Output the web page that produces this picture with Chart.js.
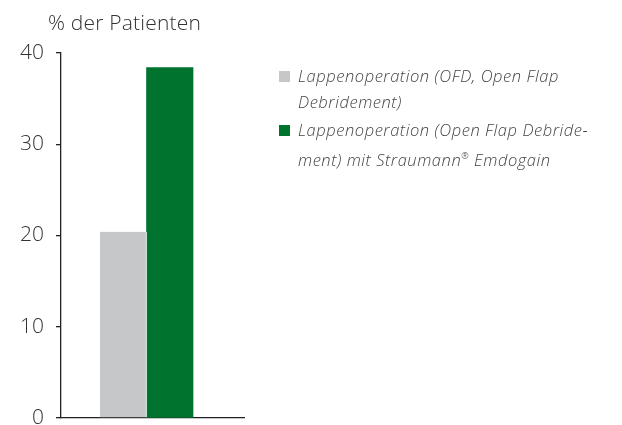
<!DOCTYPE html>
<html>
<head>
<meta charset="utf-8">
<script src="https://cdn.jsdelivr.net/npm/chart.js@4"></script>
<style>
  body { margin: 0; background: #fff; }
  #wrap { position: relative; width: 622px; height: 425px; }
  #titel { position: absolute; left: 48px; top: 8px; font: 300 21px "Open Sans", sans-serif; color: #333; letter-spacing: 0.2px; }
  #legende { position: absolute; left: 279px; top: 63px; width: 340px; font: italic 300 16.5px "Open Sans", sans-serif; color: #444; letter-spacing: 0.55px; }
  #legende .eintrag { position: relative; padding-left: 19px; line-height: 26px; margin-bottom: 2px; }
  #legende .box { position: absolute; left: 0; top: 8px; width: 11px; height: 11px; }
</style>
</head>
<body>
<div id="wrap">
  <canvas id="grafik" width="622" height="425"></canvas>
  <div id="titel">% der Patienten</div>
  <div id="legende"></div>
</div>
<script>
// daten
var kategorien = [0];
var serien = [
  'Lappenoperation (OFD, Open Flap Debridement)',
  'Lappenoperation (Open Flap Debride-ment) mit Straumann® Emdogain'
];
var werteOFD = [20.4];
var werteEMD = [38.4];
var farben = ['#c6c7c9', '#00732f'];
var yTicks = [0, 10, 20, 30, 40];

function punkte(werte) {
    return werte.map(function (v, i) { return { x: kategorien[i], y: v }; });
}

document.addEventListener("DOMContentLoaded", function () {
    var ctx = document.getElementById("grafik").getContext("2d");
    var myChart = new Chart(ctx, {
        type: 'bar',
        data: {
            datasets: [{
                label: serien[0],
                backgroundColor: farben[0],
                borderColor: '#ffffff',
                borderWidth: { right: 1 },
                borderSkipped: false,
                data: punkte(werteOFD)
            }, {
                label: serien[1],
                backgroundColor: farben[1],
                data: punkte(werteEMD)
            }]
        },
        options: {
            responsive: false,
            animation: false,
            layout: { padding: { top: 53, left: 0, right: 378, bottom: 7 } },
            plugins: {
                legend: { display: false },
                tooltip: { enabled: false }
            },
            datasets: { bar: { barThickness: 46.5 } },
            scales: {
                x: {
                    type: 'linear',
                    min: -0.451,
                    max: 0.549,
                    grid: { display: false, drawTicks: false },
                    border: { color: '#222', width: 1.3 },
                    ticks: { display: false }
                },
                y: {
                    min: 0,
                    max: 40,
                    afterBuildTicks: function (scale) {
                        scale.ticks = yTicks.map(function (v) { return { value: v }; });
                    },
                    afterFit: function (scale) {
                        scale.width = 61;
                        scale.paddingTop = 0;
                        scale.paddingBottom = 0;
                    },
                    grid: { drawOnChartArea: false, drawTicks: true, tickLength: 5, color: '#222', lineWidth: 1.3 },
                    border: { color: '#222', width: 1.3 },
                    ticks: {
                        padding: 12,
                        color: '#333',
                        font: { family: '"Open Sans", sans-serif', size: 21, weight: 300 }
                    }
                }
            }
        }
    });

    // legende
    var leg = document.getElementById('legende');
    myChart.data.datasets.forEach(function (ds) {
        var d = document.createElement('div');
        d.className = 'eintrag';
        d.innerHTML = '<span class="box" style="background:' + ds.backgroundColor + '"></span>' + ds.label.replace('Debride-ment', 'Debride-<br>ment').replace('Flap Debridement)', 'Flap<br>Debridement)').replace('®', '<sup style="font-size:9px">®</sup>');
        leg.appendChild(d);
    });
});
</script>
</body>
</html>
